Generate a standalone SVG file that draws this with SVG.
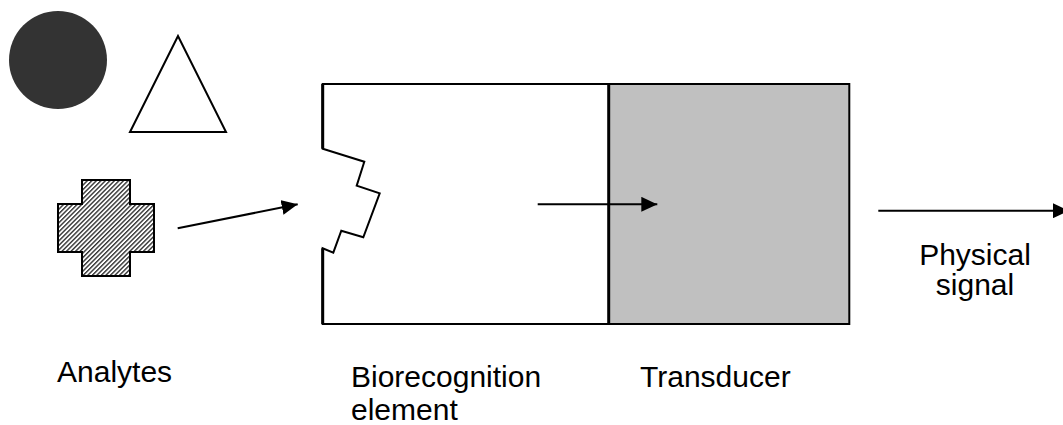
<svg xmlns="http://www.w3.org/2000/svg" width="1063" height="425" viewBox="0 0 1063 425">
<style>
.lbl{font-family:"Liberation Sans",Arial,sans-serif;font-size:30px;fill:#000}
.ol{fill:none;stroke:#000;stroke-width:2;stroke-linejoin:miter}
.conn{stroke:#000;stroke-width:2;fill:none}
</style>
<defs>
<pattern id="hatch" width="3.2" height="3.2" patternUnits="userSpaceOnUse" patternTransform="rotate(45)">
<rect width="3.2" height="3.2" fill="#fff"/>
<rect width="1.4" height="3.2" fill="#333"/>
</pattern>
<marker id="ah" markerUnits="userSpaceOnUse" markerWidth="16" markerHeight="15" refX="16" refY="7.5" orient="auto">
<path d="M0,0 L16,7.5 L0,15 Z" fill="#000"/>
</marker>
</defs>
<rect width="1063" height="425" fill="#fff"/>
<g id="circle-analyte"><circle cx="58" cy="60" r="49" fill="#333"/></g>
<g id="triangle-analyte"><polygon points="178,36 130,132 226,132" class="ol"/></g>
<g id="cross-analyte"><polygon points="82,180 130,180 130,204 154,204 154,252 130,252 130,276 82,276 82,252 58,252 58,204 82,204" fill="url(#hatch)" stroke="#000" stroke-width="2"/></g>
<g id="biorecognition">
<path d="M609,84 L322.7,84 L322.7,148.7 L364.3,161.7 L356.7,185.7 L379.7,193.3 L363.3,237.3 L341.3,230.7 L333.3,252.7 L322.7,248.3 L322.7,324 L609,324" class="ol"/>
<path d="M322.7,84 L322.7,148.7 M322.7,248.3 L322.7,324" fill="none" stroke="#000" stroke-width="3"/>
</g>
<g id="transducer"><rect x="609" y="84" width="240.3" height="240" fill="#c0c0c0" stroke="#000" stroke-width="2"/>
<line x1="608.7" y1="84" x2="608.7" y2="324" stroke="#000" stroke-width="3"/></g>
<g id="connectors">
<line x1="177.7" y1="228.3" x2="297.7" y2="204.3" class="conn" marker-end="url(#ah)"/>
<line x1="537.7" y1="204.3" x2="657.3" y2="204.3" class="conn" marker-end="url(#ah)"/>
<line x1="878.3" y1="210.7" x2="1069" y2="210.7" class="conn" marker-end="url(#ah)"/>
</g>
<g id="labels">
<text class="lbl" x="57" y="382">Analytes</text>
<text class="lbl" x="351" y="387">Biorecognition</text>
<text class="lbl" x="351" y="420">element</text>
<text class="lbl" x="975" y="265" text-anchor="middle">Physical</text>
<text class="lbl" x="975" y="295" text-anchor="middle">signal</text>
<text class="lbl" x="640" y="387">Transducer</text>
</g>
</svg>
